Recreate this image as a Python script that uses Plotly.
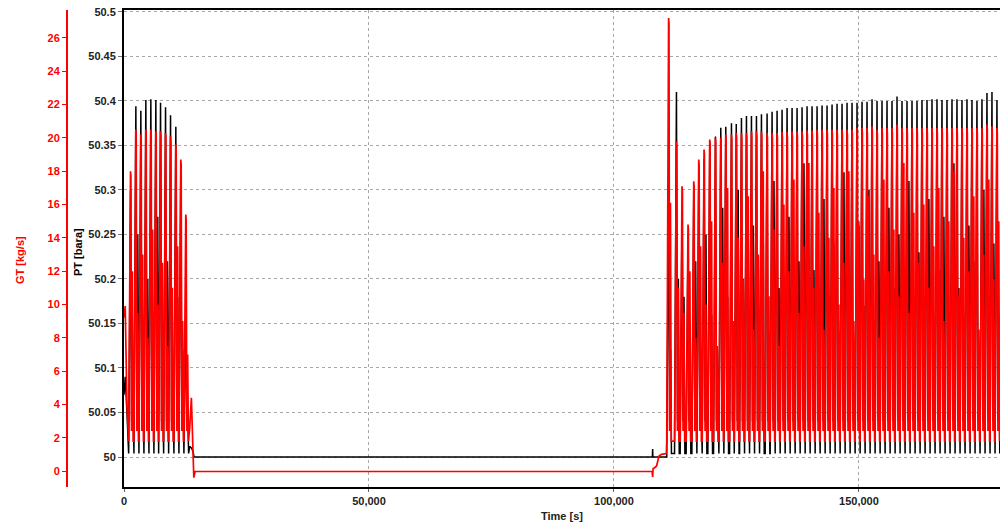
import plotly.graph_objects as go

# ── Data ──────────────────────────────────────────────────────────────────────
# Each oscillation cycle is described by its peak time, the main peak and a
# smaller secondary peak that follows it (PT in bara, GT in kg/s).

START_T  = [0, 250, 600]
START_PT = [50.07, 50.09, 50.05]
START_GT = [9.2, 9.9, 4.0]

EARLY_T       = [1370, 2450, 3470, 4490, 5510, 6530, 7490, 8510, 9530, 10610, 11630, 12650]
EARLY_PT_PEAK = [50.300, 50.394, 50.389, 50.401, 50.402, 50.401, 50.398, 50.393, 50.384, 50.371, 50.330, 50.170]
EARLY_PT_MID  = [50.10, 50.25, 50.12, 50.20, 50.15, 50.27, 50.13, 50.22, 50.11, 50.18, 50.12, 50.05]
EARLY_GT_PEAK = [18.0, 20.5, 20.2, 20.5, 20.5, 20.4, 20.4, 20.3, 20.1, 19.6, 18.7, 15.4]
EARLY_GT_MID  = [12.0, 9.5, 13.0, 8.0, 14.5, 10.0, 12.5, 7.5, 11.0, 13.5, 9.0, 7.0]

# shut-in period between the two flowing periods
GAP_PT_T = [13400, 13800, 14100, 14300, 107850, 107900, 107950, 110780]
GAP_PT   = [50.012, 50.010, 50.006, 50.0, 50.0, 50.009, 50.0, 50.0]
GAP_GT_T = [13400, 13750, 14050, 14250, 14500, 107800, 107900, 108000,
            108300, 108700, 109200, 109700, 110700]
GAP_GT   = [2.5, 4.4, 1.2, -0.4, -0.03, -0.03, -0.35, 0.15,
            0.2, 0.3, 0.9, 1.0, 1.05]

LATE_T = [
    111200, 112790, 113940, 115160, 116330, 117350, 118430, 119590, 120750, 121840,
    122860, 124020, 125000, 126060, 127080, 128100, 129120, 130140, 131290, 132310,
    133330, 134350, 135370, 136390, 137410, 138430, 139450, 140470, 141490, 142510,
    143530, 144550, 145570, 146590, 147610, 148630, 149650, 150670, 151690, 152710,
    153730, 154750, 155770, 156790, 157810, 158830, 159850, 160870, 161890, 162910,
    163930, 164950, 165970, 166990, 168010, 169030, 170050, 171070, 172090, 173110,
    174130, 175150, 176170, 177190, 178210,
]
LATE_PT_PEAK = [
    50.300, 50.410, 50.280, 50.250, 50.300, 50.320, 50.335, 50.355, 50.360, 50.370,
    50.371, 50.375, 50.374, 50.381, 50.383, 50.383, 50.383, 50.385, 50.386, 50.388,
    50.389, 50.390, 50.392, 50.392, 50.392, 50.393, 50.394, 50.394, 50.394, 50.395,
    50.395, 50.396, 50.397, 50.397, 50.398, 50.398, 50.398, 50.399, 50.399, 50.402,
    50.400, 50.400, 50.400, 50.400, 50.405, 50.400, 50.400, 50.400, 50.400, 50.401,
    50.401, 50.402, 50.402, 50.401, 50.401, 50.402, 50.402, 50.401, 50.402, 50.401,
    50.400, 50.402, 50.409, 50.410, 50.401,
]
LATE_PT_MID = [
    50.12, 50.20, 50.18, 50.14, 50.22, 50.10, 50.25, 50.16, 50.12, 50.28,
    50.18, 50.14, 50.30, 50.20, 50.11, 50.26, 50.17, 50.24, 50.13, 50.31,
    50.19, 50.15, 50.27, 50.12, 50.22, 50.33, 50.16, 50.21, 50.10, 50.29,
    50.18, 50.24, 50.14, 50.32, 50.20, 50.12, 50.26, 50.17, 50.30, 50.15,
    50.22, 50.11, 50.28, 50.19, 50.25, 50.13, 50.31, 50.18, 50.23, 50.15,
    50.29, 50.12, 50.21, 50.27, 50.16, 50.33, 50.19, 50.14, 50.26, 50.22,
    50.12, 50.30, 50.18, 50.24, 50.16,
]
LATE_GT_PEAK = [
    27.2, 19.8, 17.1, 14.8, 17.4, 18.7, 19.3, 19.9, 20.0, 20.0,
    20.2, 20.2, 20.3, 20.3, 20.3, 20.4, 20.4, 20.4, 20.3, 20.3,
    20.3, 20.35, 20.35, 20.4, 20.4, 20.4, 20.45, 20.45, 20.5, 20.5,
    20.5, 20.5, 20.5, 20.5, 20.5, 20.5, 20.6, 20.6, 20.6, 20.7,
    20.5, 20.6, 20.6, 20.6, 20.8, 20.6, 20.6, 20.6, 20.6, 20.6,
    20.6, 20.6, 20.6, 20.6, 20.6, 20.6, 20.6, 20.6, 20.6, 20.6,
    20.6, 20.6, 20.8, 20.7, 20.6,
]
LATE_GT_MID = [
    16.1, 11.0, 9.5, 12.0, 8.0, 13.5, 10.0, 15.0, 7.5, 12.5,
    17.0, 9.0, 14.0, 11.5, 16.5, 8.5, 13.0, 18.0, 10.5, 14.5,
    7.5, 16.0, 12.0, 17.5, 9.5, 13.5, 18.5, 11.0, 15.5, 8.5,
    14.0, 17.0, 10.0, 12.5, 18.0, 9.0, 15.0, 11.5, 16.5, 13.0,
    8.0, 17.5, 12.0, 14.5, 10.5, 18.5, 9.5, 15.5, 12.5, 16.0,
    11.0, 13.5, 17.0, 9.0, 15.0, 18.0, 10.5, 14.0, 12.0, 16.5,
    8.5, 13.0, 17.5, 11.5, 15.0,
]

PT_TICKS = [50.0, 50.05, 50.1, 50.15, 50.2, 50.25, 50.3, 50.35, 50.4, 50.45, 50.5]
PT_TICKTEXT = ['50', '50.05', '50.1', '50.15', '50.2', '50.25', '50.3', '50.35',
               '50.4', '50.45', '50.5']
GT_TICKS = [0, 2, 4, 6, 8, 10, 12, 14, 16, 18, 20, 22, 24, 26]
TIME_TICKS = [0, 50000, 100000, 150000]

PT_LOW = 50.004
GT_LOW = 1.8


# ── Build the cycle waveforms ─────────────────────────────────────────────────

def _pt_cycles(times, peaks, mids):
    xs, ys = [], []
    for t, pk, md in zip(times, peaks, mids):
        xs += [t - 420, t - 30, t + 180, t + 360, t + 540]
        ys += [PT_LOW, pk, 50.04, md, PT_LOW]
    return xs, ys


def _gt_cycles(times, peaks, mids):
    xs, ys = [], []
    for t, pk, md in zip(times, peaks, mids):
        xs += [t - 420, t - 40, t + 40, t + 170, t + 340, t + 500]
        ys += [GT_LOW, pk, pk - 0.3, 2.4, md, GT_LOW]
    return xs, ys


def build_pt():
    e_x, e_y = _pt_cycles(EARLY_T, EARLY_PT_PEAK, EARLY_PT_MID)
    l_x, l_y = _pt_cycles(LATE_T, LATE_PT_PEAK, LATE_PT_MID)
    return START_T + e_x + GAP_PT_T + l_x, START_PT + e_y + GAP_PT + l_y


def build_gt():
    e_x, e_y = _gt_cycles(EARLY_T, EARLY_GT_PEAK, EARLY_GT_MID)
    l_x, l_y = _gt_cycles(LATE_T, LATE_GT_PEAK, LATE_GT_MID)
    return START_T + e_x + GAP_GT_T + l_x, START_GT + e_y + GAP_GT + l_y


# ── Chart ─────────────────────────────────────────────────────────────────────

FONT = 'Arial, Liberation Sans, sans-serif'
GRID = '#a8a8a8'
RED = '#ff0000'
W, H = 1000, 522
M_TOP, M_BOT = 10, 35

pt_x, pt_y = build_pt()
gt_x, gt_y = build_gt()

fig = go.Figure()
fig.add_trace(go.Scatter(x=pt_x, y=pt_y, mode='lines', name='PT',
                         line=dict(color='#000000', width=1.5), yaxis='y'))
fig.add_trace(go.Scatter(x=gt_x, y=gt_y, mode='lines', name='GT',
                         line=dict(color=RED, width=1.7), yaxis='y2'))

tick_font = dict(family=FONT, size=11, color='#222222', weight='bold')

fig.update_layout(
    width=W, height=H,
    margin=dict(l=0, r=0, t=M_TOP, b=M_BOT),
    paper_bgcolor='white', plot_bgcolor='white',
    showlegend=False,
    font=dict(family=FONT, size=12, color='#222222'),
    xaxis=dict(
        domain=[0.124, 1.0], range=[0, 178800], automargin=False,
        tickvals=TIME_TICKS, tickformat=',d', tickfont=tick_font,
        ticks='outside', ticklen=3, tickcolor='#666666',
        showgrid=True, gridcolor=GRID, griddash='dot', gridwidth=1,
        showline=True, linecolor='#000000', linewidth=2, mirror=True,
        zeroline=False,
    ),
    yaxis=dict(
        range=[49.9663, 50.5022], anchor='x', automargin=False,
        tickvals=PT_TICKS, ticktext=PT_TICKTEXT, tickfont=tick_font,
        ticks='outside', ticklen=4, tickcolor='#777777',
        showgrid=True, gridcolor=GRID, griddash='dot', gridwidth=1,
        showline=True, linecolor='#000000', linewidth=2,
        zeroline=False,
    ),
    yaxis2=dict(
        range=[-0.96, 27.68], overlaying='y', anchor='free', automargin=False,
        side='left', position=0.067,
        tickvals=GT_TICKS,
        tickfont=dict(family=FONT, size=11, color=RED, weight='bold'),
        ticks='outside', ticklen=4, tickcolor=RED,
        showgrid=False, zeroline=False,
        showline=True, linecolor=RED, linewidth=2,
    ),
)

# axis titles placed by pixel position (centre of the text)
TITLES = [
    ('GT [kg/s]', 20, 260, -90, RED),
    ('PT [bara]', 78, 252, -90, '#000000'),
    ('Time [s]', 562, 516, 0, '#222222'),
]
for text, px, py, angle, color in TITLES:
    fig.add_annotation(
        text=text, x=px / W, y=1 - (py - M_TOP) / (H - M_TOP - M_BOT),
        xref='paper', yref='paper', xanchor='center', yanchor='middle',
        showarrow=False, textangle=angle,
        font=dict(family=FONT, size=11, color=color, weight='bold'),
    )

# drop the default page margin so the figure sits at the window corner
fig.write_html("out.html", config={'displayModeBar': False},
               post_script="document.body.style.margin = '0';")
